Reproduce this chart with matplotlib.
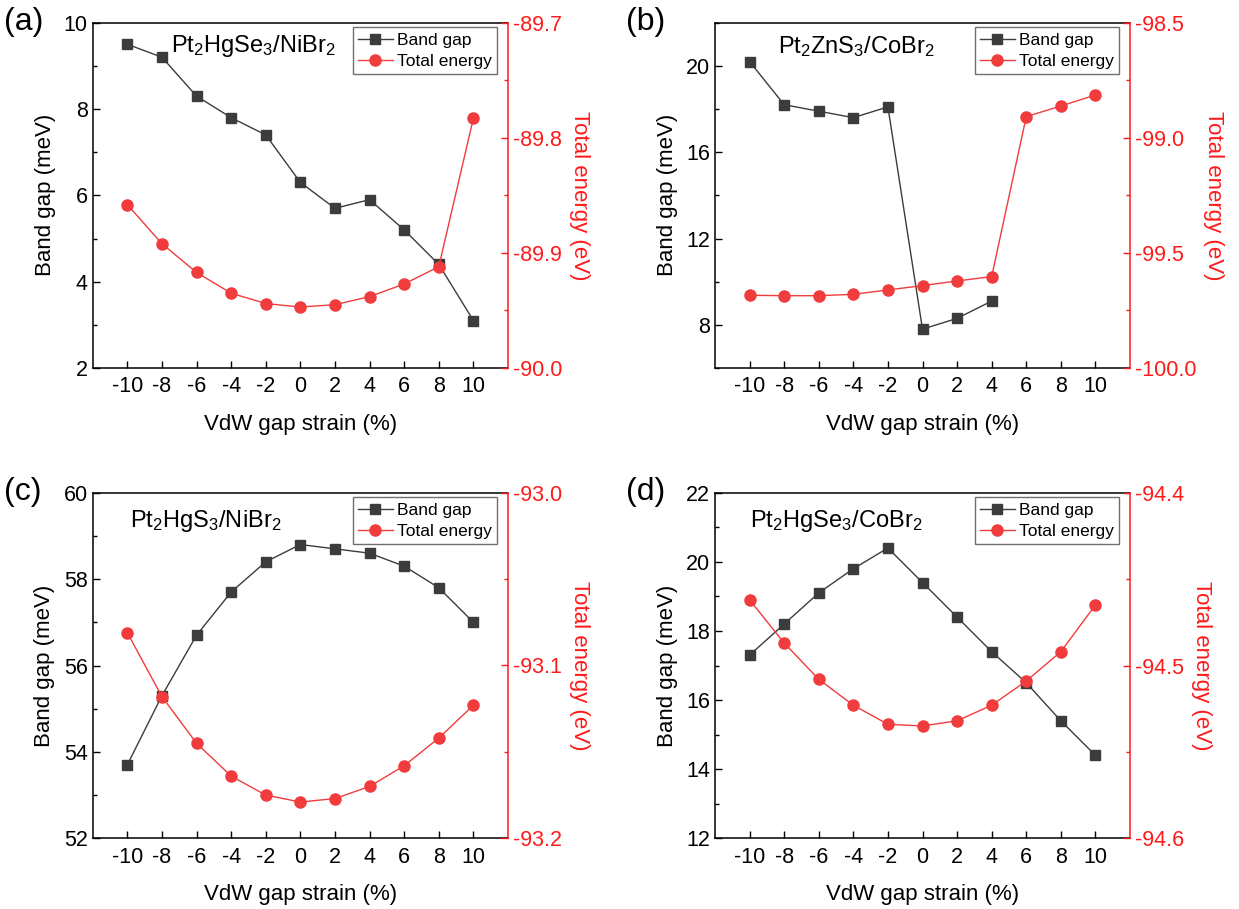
import matplotlib
matplotlib.use("Agg")
import matplotlib.pyplot as plt
from matplotlib.ticker import MultipleLocator, FormatStrFormatter

plt.rcParams['font.family'] = ['Liberation Sans', 'DejaVu Sans']
plt.rcParams['mathtext.fontset'] = 'custom'
plt.rcParams['mathtext.rm'] = 'Liberation Sans'
plt.rcParams['mathtext.it'] = 'Liberation Sans:italic'
plt.rcParams['axes.unicode_minus'] = False

strain = [-10, -8, -6, -4, -2, 0, 2, 4, 6, 8, 10]

# (a) Pt2HgSe3/NiBr2
gap_a = [9.5, 9.2, 8.3, 7.8, 7.4, 6.3, 5.7, 5.9, 5.2, 4.4, 3.1]
energy_a = [-89.858, -89.892, -89.917, -89.935, -89.944, -89.947, -89.945, -89.938, -89.927, -89.912, -89.783]

# (b) Pt2ZnS3/CoBr2 (band gap only up to 4 %)
strain_gap_b = [-10, -8, -6, -4, -2, 0, 2, 4]
gap_b = [20.2, 18.2, 17.9, 17.6, 18.1, 7.8, 8.3, 9.1]
energy_b = [-99.684, -99.686, -99.686, -99.680, -99.661, -99.642, -99.622, -99.603, -98.908, -98.862, -98.814]

# (c) Pt2HgS3/NiBr2
gap_c = [53.7, 55.3, 56.7, 57.7, 58.4, 58.8, 58.7, 58.6, 58.3, 57.8, 57.0]
energy_c = [-93.081, -93.118, -93.145, -93.164, -93.175, -93.179, -93.177, -93.170, -93.158, -93.142, -93.123]

# (d) Pt2HgSe3/CoBr2
gap_d = [17.3, 18.2, 19.1, 19.8, 20.4, 19.4, 18.4, 17.4, 16.5, 15.4, 14.4]
energy_d = [-94.462, -94.487, -94.508, -94.523, -94.534, -94.535, -94.532, -94.523, -94.509, -94.492, -94.465]

titles = [r'Pt$_2$HgSe$_3$/NiBr$_2$', r'Pt$_2$ZnS$_3$/CoBr$_2$',
          r'Pt$_2$HgS$_3$/NiBr$_2$', r'Pt$_2$HgSe$_3$/CoBr$_2$']
panel_labels = ['(a)', '(b)', '(c)', '(d)']

GRAY = '#3c3c3c'
RED_DATA = '#f03c3c'
RED_AX = '#ff1a1a'
W, H = 1239, 909

def ax_rect(x0, y0, x1, y1):
    return [x0 / W, 1 - y1 / H, (x1 - x0) / W, (y1 - y0) / H]

fig = plt.figure(figsize=(12.39, 9.09), dpi=100)

panels = [
    dict(rect=ax_rect(92.7, 22.7, 508, 368), gx=strain, gap=gap_a, en=energy_a,
         gl=(2, 10), gmaj=2, gmin=1, el=(-90.0, -89.7), emaj=0.1, emin=0.05,
         tpos=(0.188, 0.932), lab=(4, 22)),
    dict(rect=ax_rect(715, 22.7, 1130, 368), gx=strain_gap_b, gap=gap_b, en=energy_b,
         gl=(6, 22), gmaj=4, gmin=2, el=(-100.0, -98.5), emaj=0.5, emin=0.25,
         tpos=(0.152, 0.932), lab=(626, 22)),
    dict(rect=ax_rect(92.7, 492.7, 508, 838.3), gx=strain, gap=gap_c, en=energy_c,
         gl=(52, 60), gmaj=2, gmin=1, el=(-93.2, -93.0), emaj=0.1, emin=0.05,
         tpos=(0.09, 0.918), lab=(4, 492)),
    dict(rect=ax_rect(715, 492.7, 1130, 838.3), gx=strain, gap=gap_d, en=energy_d,
         gl=(12, 22), gmaj=2, gmin=1, el=(-94.6, -94.4), emaj=0.1, emin=0.05,
         tpos=(0.084, 0.918), lab=(626, 492)),
]

for i, p in enumerate(panels):
    ax = fig.add_axes(p['rect'])
    ax2 = ax.twinx()
    l1, = ax.plot(p['gx'], p['gap'], '-s', color=GRAY, lw=1.0, ms=7.5, label='Band gap')
    l2, = ax2.plot(strain, p['en'], '-o', color=RED_DATA, lw=1.0, ms=8, label='Total energy')
    ax.set_xlim(-12, 12)
    ax.set_xticks(strain)
    ax.set_xticklabels([str(v) for v in strain])
    ax.set_ylim(*p['gl'])
    ax.yaxis.set_major_locator(MultipleLocator(p['gmaj']))
    ax.yaxis.set_minor_locator(MultipleLocator(p['gmin']))
    ax2.set_ylim(*p['el'])
    ax2.yaxis.set_major_locator(MultipleLocator(p['emaj']))
    ax2.yaxis.set_minor_locator(MultipleLocator(p['emin']))
    ax2.yaxis.set_major_formatter(FormatStrFormatter('%.1f'))

    ax.tick_params(axis='both', which='major', direction='in', length=5, width=1,
                   labelsize=15.5, top=False, right=False)
    ax.tick_params(axis='x', which='major', pad=6)
    ax.tick_params(axis='y', which='minor', direction='in', length=3, width=1)
    ax.tick_params(axis='x', which='minor', bottom=False)
    ax2.tick_params(axis='y', which='major', direction='in', length=5, width=1,
                    labelsize=15.5, colors=RED_AX)
    ax2.tick_params(axis='y', which='minor', direction='in', length=3, width=1, colors=RED_AX)
    for s in ['left', 'bottom', 'top']:
        ax.spines[s].set_linewidth(1.1)
        ax2.spines[s].set_visible(False)
    ax.spines['right'].set_visible(False)
    ax2.spines['right'].set_color(RED_AX)
    ax2.spines['right'].set_linewidth(1.1)

    ax.set_xlabel('VdW gap strain (%)', fontsize=16, labelpad=12)
    ax.set_ylabel('Band gap (meV)', fontsize=16, labelpad=6)
    ax2.set_ylabel('Total energy (eV)', fontsize=16, color=RED_AX, rotation=270, labelpad=20)

    ax.text(p['tpos'][0], p['tpos'][1], titles[i], transform=ax.transAxes,
            fontsize=17, ha='left', va='center')

    leg = ax2.legend([l1, l2], ['Band gap', 'Total energy'], loc='upper right',
                     bbox_to_anchor=(1 - 11 / 415.3, 1 - 4.6 / 345.3),
                     fontsize=12.5, frameon=True, fancybox=False, edgecolor='#707070',
                     framealpha=1, borderaxespad=0, handlelength=2.0,
                     labelspacing=0.35, borderpad=0.3, handletextpad=0.25)
    leg.get_frame().set_linewidth(1.0)

    fig.text(p['lab'][0] / W, 1 - p['lab'][1] / H, panel_labels[i], fontsize=23,
             ha='left', va='center')

fig.savefig('out.png', dpi=100)
